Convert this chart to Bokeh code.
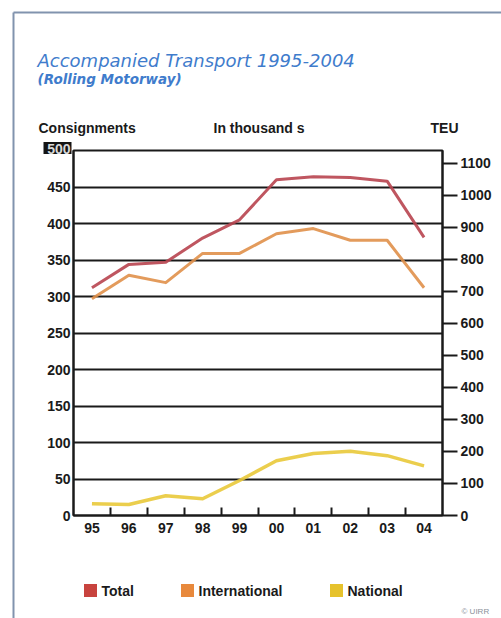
from bokeh.plotting import figure
from bokeh.models import Range1d, LinearAxis, FixedTicker
from bokeh.core.properties import value
from bokeh.embed import file_html
from bokeh.resources import INLINE

# Accompanied transport (Rolling Motorway), consignments in thousands
years = ["95", "96", "97", "98", "99", "00", "01", "02", "03", "04"]
total = [312, 344, 347, 380, 405, 460, 464, 463, 458, 381]
international = [297, 329, 319, 359, 359, 386, 393, 377, 377, 312]
national = [16, 15, 27, 23, 48, 75, 85, 88, 82, 68]

series_names = ["Total", "International", "National"]
left_ticks = list(range(0, 501, 50))
teu_ticks = list(range(0, 1101, 100))

W, H = 501, 618
FONT = "Liberation Sans"
INK = "#1a1a1a"
BLUE = "#3f7ccc"
RED = "#b8444f"
ORANGE = "#e0904a"
YELLOW = "#e9c93a"
SWATCH = ["#c8433e", "#e8893c", "#e6c22c"]

# ---- sheet: frame, headings, legend (pixel coordinates, y downwards) ----
sheet = figure(width=W, height=H, output_backend="svg", toolbar_location=None,
               x_range=Range1d(0, W), y_range=Range1d(H, 0),
               x_axis_type=None, y_axis_type=None,
               min_border=0, border_fill_color="white",
               background_fill_color="white")
sheet.grid.visible = False
sheet.outline_line_color = None

FRAME = "#8193ae"
sheet.segment(x0=[13, 13], y0=[12, 12], x1=[W + 5, 13], y1=[12, H + 5],
              line_color=FRAME, line_width=2)


def note(text, x0, y0, size, style="bold", color=INK, align="left", font=FONT):
    sheet.text(x=[x0], y=[y0], text=[text], text_font=value(font),
               text_font_style=style, text_font_size=size, text_color=color,
               text_align=align, text_baseline="middle")


note("Accompanied Transport 1995-2004", 37, 60, "18px", style="italic",
     color=BLUE, font="DejaVu Sans")
note("(Rolling Motorway)", 37, 78, "13.5px", style="bold italic",
     color=BLUE, font="DejaVu Sans")
note("Consignments", 38, 127, "14px")
note("In thousand s", 213, 127, "14px")
note("TEU", 430, 127, "14px")

# highlighted top value of the left scale
sheet.rect(x=[57], y=[147.5], width=28, height=12, fill_color="#141414", line_color=None)
note("500", 70, 148, "14px", color="#d8d8d8", align="right")

# legend
sw_x = [90, 187, 336]
tx_x = [101, 198, 347]
sheet.rect(x=sw_x, y=[590] * 3, width=13, height=13, fill_color=SWATCH, line_color=None)
for name, tx in zip(series_names, tx_x):
    note(name, tx, 590, "14px")

note("© UIRR", 461, 611, "8px", style="normal", color="#8a9099")

# ---- chart, laid over the sheet with transparent fills ----
x = list(range(len(years)))
p = figure(width=W, height=H, output_backend="svg", toolbar_location=None,
           x_range=Range1d(-0.5, len(years) - 0.5), y_range=Range1d(0, 500),
           min_border_left=73, min_border_right=59,
           min_border_top=150, min_border_bottom=103,
           background_fill_alpha=0, border_fill_alpha=0,
           margin=(-H, 0, 0, 0))
p.outline_line_color = INK
p.outline_line_width = 2
p.extra_y_ranges = {"teu": Range1d(0, 1140)}

p.xgrid.visible = False
p.ygrid.ticker = FixedTicker(ticks=left_ticks)
p.ygrid.grid_line_color = INK
p.ygrid.grid_line_width = 2


def style_axis(ax):
    ax.axis_line_width = 2
    ax.axis_line_color = INK
    ax.major_label_text_font = FONT
    ax.major_label_text_font_style = "bold"
    ax.major_label_text_font_size = "14px"
    ax.major_label_text_color = INK
    ax.minor_tick_out = 0
    ax.minor_tick_in = 0


# left axis: consignments
ya = p.yaxis[0]
ya.ticker = FixedTicker(ticks=left_ticks)
ya.major_label_overrides = {500: " "}
style_axis(ya)
ya.major_tick_out = 0
ya.major_tick_in = 0
ya.major_label_standoff = 3

# bottom axis: years, with small marks between them
xa = p.xaxis[0]
xa.ticker = FixedTicker(ticks=x, minor_ticks=[i + 0.5 for i in x[:-1]])
xa.major_label_overrides = {i: y for i, y in zip(x, years)}
style_axis(xa)
xa.major_tick_out = 0
xa.major_tick_in = 0
xa.minor_tick_in = 8
xa.minor_tick_line_width = 2
xa.minor_tick_line_color = INK
xa.major_label_standoff = 7

# right axis: TEU
ra = LinearAxis(y_range_name="teu", ticker=FixedTicker(ticks=teu_ticks))
style_axis(ra)
ra.major_tick_out = 15
ra.major_tick_in = 0
ra.major_tick_line_width = 2
ra.major_tick_line_color = INK
ra.major_label_standoff = 3
p.add_layout(ra, "right")

# series
p.line(x, national, line_color=YELLOW, line_width=3.5, line_alpha=0.9, line_join="round")
p.line(x, international, line_color=ORANGE, line_width=3, line_alpha=0.9, line_join="round")
p.line(x, total, line_color=RED, line_width=3, line_alpha=0.9, line_join="round")

open("out.html", "w").write(file_html([sheet, p], INLINE))
